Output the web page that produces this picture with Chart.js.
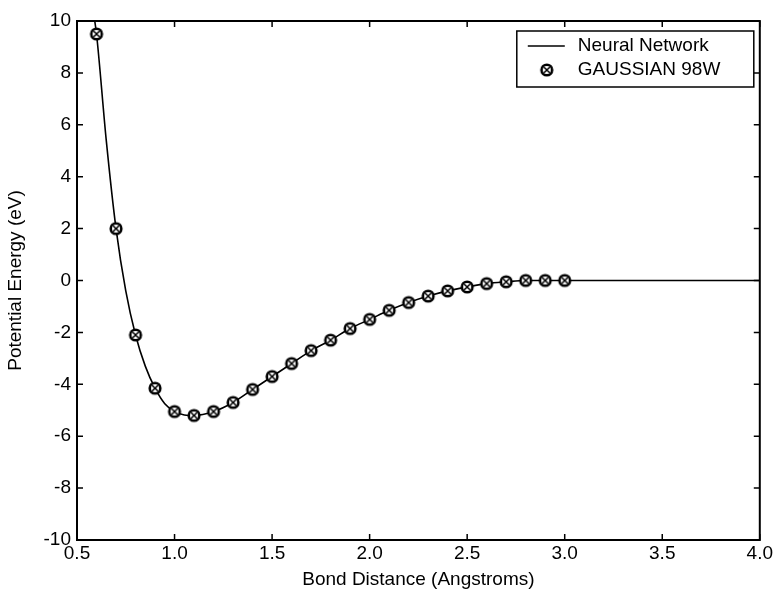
<!DOCTYPE html>
<html>
<head>
<meta charset="utf-8">
<script src="https://cdn.jsdelivr.net/npm/chart.js@4"></script>
<style>
  html, body { margin: 0; padding: 0; background: #fff; }
  #wrap { width: 775px; height: 595px; position: relative; }
</style>
</head>
<body>
<div id="wrap"><canvas id="grafico"></canvas></div>
<script>
// Data
const gaussX = [0.6, 0.7, 0.8, 0.9, 1.0, 1.1, 1.2, 1.3, 1.4, 1.5, 1.6, 1.7, 1.8,
                1.9, 2.0, 2.1, 2.2, 2.3, 2.4, 2.5, 2.6, 2.7, 2.8, 2.9, 3.0];
const gaussY = [9.5, 2.0, -2.1, -4.15, -5.05, -5.2, -5.05, -4.7, -4.2, -3.7, -3.2, -2.7, -2.3,
                -1.85, -1.5, -1.15, -0.85, -0.6, -0.4, -0.25, -0.12, -0.05, 0, 0, 0];

const netX = [0.585, 0.6, 0.65, 0.7, 0.75, 0.8, 0.85, 0.9, 0.95, 1.0, 1.05, 1.1, 1.2, 1.3, 1.4, 1.5,
              1.6, 1.7, 1.8, 1.9, 2.0, 2.1, 2.2, 2.3, 2.4, 2.5, 2.6, 2.7, 2.8, 2.9, 3.0, 3.5, 4.0];
const netY = [10.3, 9.5, 5.4, 2.0, -0.4, -2.1, -3.3, -4.15, -4.75, -5.05, -5.18, -5.2, -5.05, -4.7, -4.2, -3.7,
              -3.2, -2.7, -2.3, -1.85, -1.5, -1.15, -0.85, -0.6, -0.4, -0.25, -0.12, -0.05, 0, 0, 0, 0, 0];

const xTicks = [0.5, 1.0, 1.5, 2.0, 2.5, 3.0, 3.5, 4.0];
const yTicks = [-10, -8, -6, -4, -2, 0, 2, 4, 6, 8, 10];

const seriesNames = ['Neural Network', 'GAUSSIAN 98W'];
const xTitle = 'Bond Distance (Angstroms)';
const yTitle = 'Potential Energy (eV)';

const fonte = '"Liberation Sans", Arial, sans-serif';

// marker: circle with a cross
function criarMarcador() {
    const c = document.createElement('canvas');
    c.width = 16; c.height = 16;
    const g = c.getContext('2d');
    g.fillStyle = '#fff';
    g.strokeStyle = '#000';
    g.lineWidth = 2.6;
    g.beginPath(); g.arc(8, 8, 5.3, 0, Math.PI * 2); g.fill(); g.stroke();
    g.lineWidth = 1.5;
    g.beginPath();
    g.moveTo(5.2, 5.2); g.lineTo(10.8, 10.8);
    g.moveTo(10.8, 5.2); g.lineTo(5.2, 10.8);
    g.stroke();
    return c;
}
const marcador = criarMarcador();

// frame, inward ticks and legend inside the plot
const moldura = {
    id: 'moldura',
    afterDraw(chart) {
        const { ctx, chartArea: a, scales } = chart;
        ctx.save();
        ctx.strokeStyle = '#000';
        ctx.lineWidth = 2;
        ctx.strokeRect(a.left, a.top, a.right - a.left, a.bottom - a.top);
        ctx.lineWidth = 1.5;
        ctx.beginPath();
        xTicks.forEach(v => {
            const px = scales.x.getPixelForValue(v);
            ctx.moveTo(px, a.bottom); ctx.lineTo(px, a.bottom - 6);
            ctx.moveTo(px, a.top); ctx.lineTo(px, a.top + 6);
        });
        yTicks.forEach(v => {
            const py = scales.y.getPixelForValue(v);
            ctx.moveTo(a.left, py); ctx.lineTo(a.left + 6, py);
            ctx.moveTo(a.right, py); ctx.lineTo(a.right - 6, py);
        });
        ctx.stroke();

        // legend box
        const bx = a.right - 243, by = a.top + 10, bw = 237, bh = 56;
        ctx.fillStyle = '#fff';
        ctx.fillRect(bx, by, bw, bh);
        ctx.lineWidth = 1.5;
        ctx.strokeRect(bx, by, bw, bh);
        ctx.beginPath();
        ctx.lineWidth = 1.5;
        ctx.moveTo(bx + 11, by + 15); ctx.lineTo(bx + 48, by + 15);
        ctx.stroke();
        ctx.drawImage(marcador, bx + 30 - 8, by + 39 - 8);
        ctx.fillStyle = '#000';
        ctx.font = '19px ' + fonte;
        ctx.textBaseline = 'middle';
        ctx.fillText(seriesNames[0], bx + 61, by + 15);
        ctx.fillText(seriesNames[1], bx + 61, by + 39);
        ctx.restore();
    }
};

const ctx = document.getElementById('grafico').getContext('2d');
new Chart(ctx, {
    type: 'scatter',
    data: {
        datasets: [
            {
                label: seriesNames[0],
                data: netX.map((x, i) => ({ x: x, y: netY[i] })),
                showLine: true,
                borderColor: '#000',
                borderWidth: 1.6,
                pointRadius: 0,
                cubicInterpolationMode: 'monotone',
                order: 2
            },
            {
                label: seriesNames[1],
                data: gaussX.map((x, i) => ({ x: x, y: gaussY[i] })),
                showLine: false,
                pointStyle: marcador,
                pointRadius: 7,
                order: 1
            }
        ]
    },
    options: {
        responsive: true,
        maintainAspectRatio: false,
        animation: false,
        layout: { padding: { top: 21, right: 15, left: 0, bottom: 0 } },
        plugins: {
            legend: { display: false },
            tooltip: { enabled: false }
        },
        scales: {
            x: {
                type: 'linear',
                min: 0.5, max: 4.0,
                afterBuildTicks: s => { s.ticks = xTicks.map(v => ({ value: v })); },
                afterFit: s => { s.height = 55; },
                grid: { display: false, drawTicks: false },
                border: { display: false },
                ticks: {
                    color: '#000', padding: 2,
                    font: { family: fonte, size: 19 },
                    callback: v => v.toFixed(1)
                },
                title: {
                    display: true, text: xTitle, color: '#000',
                    font: { family: fonte, size: 19 }, padding: { top: 0 }
                }
            },
            y: {
                type: 'linear',
                min: -10, max: 10,
                afterBuildTicks: s => { s.ticks = yTicks.map(v => ({ value: v })); },
                afterFit: s => { s.width = 77; },
                grid: { display: false, drawTicks: false },
                border: { display: false },
                ticks: {
                    color: '#000', padding: 6,
                    font: { family: fonte, size: 19 }
                },
                title: {
                    display: true, text: yTitle, color: '#000',
                    font: { family: fonte, size: 19 }, padding: { bottom: 0 }
                }
            }
        }
    },
    plugins: [moldura]
});
</script>
</body>
</html>
